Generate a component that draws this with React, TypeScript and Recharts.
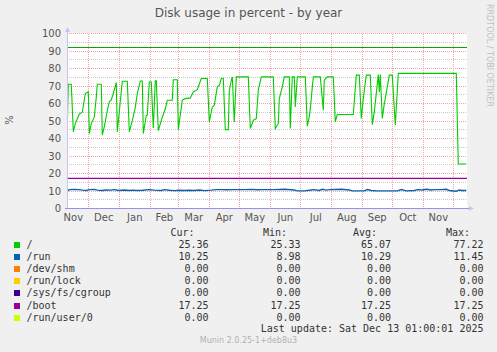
import React from 'react';
import { ComposedChart, Line, XAxis, YAxis, ReferenceLine, CartesianGrid } from 'recharts';

// Time axis: days since 1 Nov 2024
const domainDays: [number, number] = [8.7, 408.7];
const monthStarts = [0, 30, 61, 92, 120, 151, 181, 212, 242, 273, 304, 334, 365, 395];
const monthLabels = ['Nov', 'Dec', 'Jan', 'Feb', 'Mar', 'Apr', 'May', 'Jun', 'Jul', 'Aug', 'Sep', 'Oct', 'Nov'];
const yTicks = [0, 10, 20, 30, 40, 50, 60, 70, 80, 90, 100];
const yMinor = [5, 15, 25, 35, 45, 55, 65, 75, 85, 95];

// "/" series
const rootDays = [9, 10, 13, 15, 17, 21, 24, 27, 30, 31, 33, 36, 38, 39, 43, 44, 46, 49, 51, 53, 55, 58, 59, 64, 69, 71, 74, 77, 79, 82, 84, 85, 88, 89, 91, 93, 95, 97, 98, 100, 103, 107, 109, 114, 115, 119, 120, 124, 127, 132, 135, 139, 143, 149, 151, 154, 156, 159, 161, 163, 165, 167, 170, 171, 173, 174, 176, 178, 190, 192, 195, 198, 200, 203, 215, 217, 220, 221, 224, 226, 231, 232, 234, 236, 237, 239, 247, 249, 251, 252, 255, 262, 265, 266, 269, 275, 277, 279, 295, 298, 301, 303, 305, 308, 312, 314, 316, 320, 321, 322, 324, 326, 327, 331, 334, 337, 340, 398, 400, 408];
const rootValues = [47, 71, 71, 43.8, 48.5, 54, 55, 65.7, 66.7, 42.8, 48.5, 52.3, 63.8, 71, 71, 42, 46.6, 56, 61, 62, 65.7, 72, 43.8, 72.7, 72.7, 43.8, 50.2, 57.8, 65.7, 72.9, 72.9, 42.8, 53.3, 53.3, 72.3, 72.3, 46, 73, 73, 44.5, 50.4, 57, 61.9, 61.9, 73.6, 73.6, 45.1, 61.9, 62.8, 63.2, 66.6, 67.9, 74.3, 74.3, 49.5, 58, 59, 69.5, 70.4, 74.3, 74.3, 45.1, 45.1, 67.6, 73.3, 75.2, 49.5, 75.2, 75.2, 45.7, 50.4, 51.4, 67.6, 75.2, 75.2, 45.7, 48.6, 62.8, 69.5, 75.2, 75.2, 45.7, 75.2, 75.2, 58, 75.2, 75.2, 47, 52.4, 57.1, 75.2, 75.2, 56.2, 73.3, 75.2, 75.2, 49.5, 53.7, 53.7, 76.2, 76.2, 51.4, 62.8, 76.2, 76.2, 47.9, 55.2, 76.5, 66.6, 76.5, 51.4, 59.9, 62.8, 76.2, 76.2, 47.6, 77.2, 77.2, 25.4, 25.4];

// "/run" series
const runDays = [9, 11, 16, 21, 24, 28, 31, 36, 39, 44, 48, 53, 56, 61, 66, 71, 74, 79, 84, 91, 96, 103, 106, 111, 116, 121, 126, 131, 136, 141, 146, 153, 158, 163, 169, 174, 179, 186, 193, 199, 204, 216, 226, 236, 239, 246, 253, 256, 261, 264, 268, 271, 283, 291, 294, 306, 309, 313, 319, 339, 343, 348, 356, 359, 364, 368, 373, 376, 383, 388, 391, 398, 401, 404, 408];
const runValues = [9.9, 10.8, 10.9, 10.8, 10.5, 10.3, 10.8, 10.9, 10.5, 10.3, 10.6, 10.5, 10.8, 10.3, 10.6, 10.3, 10.5, 10.3, 10.4, 10.8, 10.5, 10.3, 10.8, 10.4, 10.2, 10.4, 10.3, 10.4, 10.3, 10.6, 10.2, 10.5, 10.8, 10.8, 10.7, 10.8, 10.8, 10.8, 10.9, 10.7, 10.8, 10.8, 11.0, 10.6, 10.1, 10.1, 10.6, 10.8, 10.3, 11.0, 10.5, 10.8, 11.0, 10.6, 10.1, 10.1, 10.8, 10.3, 10.1, 10.1, 10.8, 10.1, 10.3, 10.8, 10.6, 11.0, 10.6, 10.8, 10.8, 11.0, 10.3, 9.9, 10.6, 10.3, 10.3];

const spanDays = [8.7, 408.7];
const bootValue = 17.25;
const zeroValue = 0;
const warningValue = 92;

// Legend
const seriesNames = ['/', '/run', '/dev/shm', '/run/lock', '/sys/fs/cgroup', '/boot', '/run/user/0'];
const seriesColors = ['#00cc00', '#0066b3', '#ff8000', '#ffcc00', '#330099', '#990099', '#ccff00'];
const curValues = ['25.36', '10.25', '0.00', '0.00', '0.00', '17.25', '0.00'];
const minValues = ['25.33', '8.98', '0.00', '0.00', '0.00', '17.25', '0.00'];
const avgValues = ['65.07', '10.29', '0.00', '0.00', '0.00', '17.25', '0.00'];
const maxValues = ['77.22', '11.45', '0.00', '0.00', '0.00', '17.25', '0.00'];
const columnHeaders = ['Cur:', 'Min:', 'Avg:', 'Max:'];
const lastUpdate = 'Last update: Sat Dec 13 01:00:01 2025';

const W = 497;
const H = 352;

const monthCenters = monthLabels.map((_, i) => (monthStarts[i] + monthStarts[i + 1]) / 2);
const monthBoundaries = monthStarts.filter((d) => d > domainDays[0] && d < domainDays[1]);

const rootData = rootDays.map((t, i) => ({ t, v: rootValues[i] }));
const runData = runDays.map((t, i) => ({ t, v: runValues[i] }));
const bootData = spanDays.map((t) => ({ t, v: bootValue }));
const zeroData = spanDays.map((t) => ({ t, v: zeroValue }));

const AXIS_COLOR = '#c4c4f2';
const MAJOR = '#f5a3a3';
const MINOR = '#c8c8c8';

const VArrow = (p: any) => {
  const x = Math.round(p.x1 - 0.5) + 0.5;
  const top = Math.min(p.y1, p.y2);
  const bottom = Math.max(p.y1, p.y2);
  return (
    <g>
      <line x1={x} x2={x} y1={bottom} y2={top - 3} stroke={AXIS_COLOR} strokeWidth={1} />
      <path d={`M${x - 2.5},${top - 1.5} L${x + 2.5},${top - 1.5} L${x},${top - 6.5} Z`} fill={AXIS_COLOR} />
    </g>
  );
};

const HArrow = (p: any) => {
  const y = p.y1;
  const left = Math.min(p.x1, p.x2);
  const right = Math.max(p.x1, p.x2);
  return (
    <g>
      <line x1={left - 2} x2={right + 3} y1={y} y2={y} stroke="#9a90e6" strokeWidth={1} />
      <path d={`M${right + 2},${y - 2.5} L${right + 2},${y + 2.5} L${right + 7},${y} Z`} fill={AXIS_COLOR} />
    </g>
  );
};

const mono = '"DejaVu Sans Mono", monospace';
const rowTop = (i: number) => 239 + i * 12.1;
const valueRight = [208.5, 300.5, 391, 483.5];
const headerRight = [194.5, 287, 377, 470];

export default function App() {
  const cols = [curValues, minValues, avgValues, maxValues];
  return (
    <div style={{ position: 'absolute', left: 0, top: 0, width: W, height: H, background: '#f0f0f0', overflow: 'hidden', fontFamily: '"DejaVu Sans", sans-serif' }}>
      <ComposedChart width={W} height={H} margin={{ top: 33.5, right: 30, bottom: 123.5, left: 7 }} style={{ position: 'absolute', left: 0, top: 0 }}>
        <CartesianGrid fill="#ffffff" horizontal={false} vertical={false} stroke="none" />
        <XAxis
          type="number"
          dataKey="t"
          domain={domainDays}
          allowDataOverflow
          ticks={monthCenters}
          tickFormatter={(v: number) => monthLabels[monthCenters.indexOf(v)] ?? ''}
          axisLine={false}
          tickLine={false}
          tickSize={3}
          tickMargin={2}
          height={20}
          interval={0}
          tick={{ fontSize: 10, fill: '#555', fontFamily: '"DejaVu Sans", sans-serif' }}
        />
        <YAxis
          type="number"
          domain={[0, 100]}
          ticks={yTicks}
          axisLine={false}
          tickLine={false}
          tickSize={4}
          tickMargin={2}
          width={60}
          interval={0}
          tick={{ fontSize: 10, fill: '#555', fontFamily: '"DejaVu Sans", sans-serif' }}
        />
        {yMinor.map((y) => (
          <ReferenceLine key={'m' + y} y={y} stroke={MINOR} strokeDasharray="1 1" shapeRendering="crispEdges" />
        ))}
        {yTicks.filter((y) => y > 0).map((y) => (
          <ReferenceLine key={'M' + y} y={y} stroke={MAJOR} strokeDasharray="1 1" shapeRendering="crispEdges" />
        ))}
        {monthBoundaries.map((d) => (
          <ReferenceLine key={'v' + d} x={d} stroke={MAJOR} strokeDasharray="1 1" shapeRendering="crispEdges" />
        ))}
        <ReferenceLine y={warningValue} stroke="#00a800" strokeWidth={1} />
        <Line data={zeroData} dataKey="v" stroke={seriesColors[2]} dot={false} isAnimationActive={false} strokeWidth={1} />
        <Line data={zeroData} dataKey="v" stroke={seriesColors[3]} dot={false} isAnimationActive={false} strokeWidth={1} />
        <Line data={zeroData} dataKey="v" stroke={seriesColors[4]} dot={false} isAnimationActive={false} strokeWidth={1} />
        <Line data={zeroData} dataKey="v" stroke={seriesColors[6]} dot={false} isAnimationActive={false} strokeWidth={1} />
        <Line data={bootData} dataKey="v" stroke={seriesColors[5]} dot={false} isAnimationActive={false} strokeWidth={1.2} />
        <Line data={runData} dataKey="v" stroke={seriesColors[1]} dot={false} isAnimationActive={false} strokeWidth={1.4} />
        <Line data={rootData} dataKey="v" stroke={seriesColors[0]} dot={false} isAnimationActive={false} strokeWidth={1.1} />
        <ReferenceLine x={domainDays[0]} stroke={AXIS_COLOR} shape={VArrow} />
        <ReferenceLine y={0} stroke={AXIS_COLOR} shape={HArrow} />
      </ComposedChart>

      <div style={{ position: 'absolute', left: 0, top: 6, width: W, textAlign: 'center', fontSize: 12, lineHeight: '14px', color: '#555' }}>
        Disk usage in percent - by year
      </div>
      <div style={{ position: 'absolute', left: 4, top: 114, width: 12, height: 12, fontSize: 10, lineHeight: '12px', color: '#555', transform: 'rotate(-90deg)', textAlign: 'center' }}>
        %
      </div>
      <div style={{ position: 'absolute', left: 483, top: 4, width: 12, height: 110, fontSize: 8, lineHeight: '12px', color: '#c0c0c0', writingMode: 'vertical-rl', whiteSpace: 'nowrap' }}>
        RRDTOOL / TOBI OETIKER
      </div>

      {columnHeaders.map((h, j) => (
        <div key={h} style={{ position: 'absolute', left: headerRight[j] - 60, top: 227, width: 60, textAlign: 'right', fontFamily: mono, fontSize: 10, lineHeight: '12px', color: '#333', whiteSpace: 'pre' }}>
          {h}
        </div>
      ))}
      {seriesNames.map((name, i) => (
        <React.Fragment key={name}>
          <div style={{ position: 'absolute', left: 14, top: rowTop(i) + 3, width: 6, height: 6, background: seriesColors[i] }} />
          <div style={{ position: 'absolute', left: 26.5, top: rowTop(i), fontFamily: mono, fontSize: 10, lineHeight: '12px', color: '#333', whiteSpace: 'pre' }}>
            {name}
          </div>
          {cols.map((col, j) => (
            <div key={j} style={{ position: 'absolute', left: valueRight[j] - 60, top: rowTop(i), width: 60, textAlign: 'right', fontFamily: mono, fontSize: 10, lineHeight: '12px', color: '#333', whiteSpace: 'pre' }}>
              {col[i]}
            </div>
          ))}
        </React.Fragment>
      ))}
      <div style={{ position: 'absolute', left: 183.5, top: 323.3, width: 300, textAlign: 'right', fontFamily: mono, fontSize: 10, lineHeight: '12px', color: '#333', whiteSpace: 'pre' }}>
        {lastUpdate}
      </div>
      <div style={{ position: 'absolute', left: 0, top: 335, width: W, textAlign: 'center', fontSize: 8, lineHeight: '12px', color: '#b0b0b0' }}>
        Munin 2.0.25-1+deb8u3
      </div>
    </div>
  );
}
